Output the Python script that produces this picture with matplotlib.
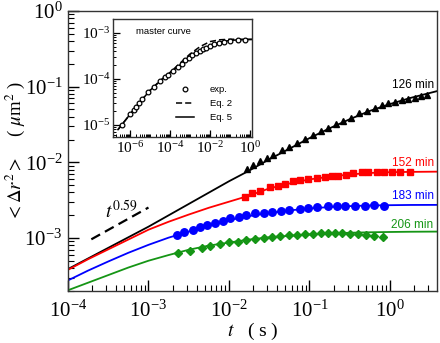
import numpy as np
import matplotlib
matplotlib.use('Agg')
import matplotlib.pyplot as plt
from matplotlib.ticker import LogLocator, NullFormatter

plt.rcParams['font.family'] = ['Liberation Serif', 'DejaVu Serif']
plt.rcParams['mathtext.fontset'] = 'stix'

# ---- main panel data (log10 values) ----
fit_logt = [-4.0, -3.75, -3.5, -3.25, -3.0, -2.75, -2.5, -2.25, -2.0, -1.75,
            -1.5, -1.25, -1.0, -0.75, -0.5, -0.25, 0.0, 0.25, 0.58]
fit_126 = [-3.41, -3.27, -3.13, -2.99, -2.85, -2.70, -2.55, -2.40, -2.25, -2.11,
           -1.96, -1.82, -1.68, -1.55, -1.43, -1.32, -1.23, -1.15, -1.06]
fit_152 = [-3.42, -3.28, -3.15, -3.02, -2.89, -2.785, -2.69, -2.60, -2.52, -2.44,
           -2.345, -2.28, -2.225, -2.19, -2.16, -2.14, -2.13, -2.126, -2.123]
fit_183 = [-3.56, -3.43, -3.31, -3.195, -3.09, -2.995, -2.915, -2.835, -2.765, -2.71,
           -2.67, -2.635, -2.61, -2.59, -2.578, -2.57, -2.566, -2.563, -2.562]
fit_206 = [-3.69, -3.59, -3.49, -3.39, -3.30, -3.225, -3.155, -3.10, -3.06, -3.02,
           -2.99, -2.97, -2.952, -2.94, -2.93, -2.924, -2.92, -2.917, -2.915]

exp126_logt = [-1.78, -1.70, -1.615, -1.53, -1.45, -1.345, -1.25, -1.16, -1.056, -0.96,
               -0.86, -0.77, -0.67, -0.58, -0.48, -0.38, -0.28, -0.19, -0.10, -0.02,
               0.06, 0.145, 0.23, 0.31, 0.39, 0.455]
exp126 = [-2.09, -2.031, -1.987, -1.942, -1.898, -1.841, -1.796, -1.743, -1.689, -1.641,
          -1.588, -1.543, -1.499, -1.456, -1.41, -1.353, -1.323, -1.278, -1.243, -1.211,
          -1.198, -1.181, -1.167, -1.145, -1.124, -1.114]

exp152_logt = [-1.80, -1.71, -1.615, -1.49, -1.39, -1.30, -1.20, -1.12, -1.015, -0.91,
               -0.81, -0.72, -0.64, -0.54, -0.46, -0.35, -0.27, -0.165, -0.08, 0.02,
               0.12, 0.25]
exp152 = [-2.452, -2.406, -2.376, -2.332, -2.306, -2.283, -2.252, -2.239, -2.216, -2.207,
          -2.199, -2.186, -2.177, -2.163, -2.141, -2.127, -2.127, -2.127, -2.127, -2.127,
          -2.127, -2.127]

exp183_logt = [-2.64, -2.555, -2.45, -2.36, -2.27, -2.17, -2.07, -1.99, -1.88, -1.79,
               -1.68, -1.57, -1.46, -1.35, -1.26, -1.12, -1.015, -0.91, -0.77, -0.66,
               -0.56, -0.43, -0.31, -0.20, -0.075]
exp183 = [-2.96, -2.925, -2.894, -2.85, -2.827, -2.797, -2.77, -2.738, -2.717, -2.695,
          -2.672, -2.664, -2.659, -2.641, -2.628, -2.619, -2.606, -2.584, -2.575, -2.575,
          -2.575, -2.575, -2.571, -2.562, -2.571]

exp206_logt = [-2.63, -2.48, -2.34, -2.23, -2.11, -2.0, -1.89, -1.79, -1.68, -1.57,
               -1.47, -1.37, -1.26, -1.16, -1.06, -0.96, -0.86, -0.77, -0.68, -0.60,
               -0.50, -0.40, -0.30, -0.195, -0.09]
exp206 = [-3.204, -3.168, -3.137, -3.106, -3.08, -3.058, -3.049, -3.027, -3.013, -2.996,
          -2.983, -2.969, -2.96, -2.96, -2.951, -2.947, -2.938, -2.938, -2.938, -2.938,
          -2.947, -2.951, -2.96, -2.973, -2.983]

guide_logt = [-3.71, -3.0]
guide_logy = [-3.017, -2.597]

# ---- inset (master curve) ----
mc_logt = [-6.42, -6.00, -5.80, -5.68, -5.55, -5.38, -5.10, -4.80, -4.50, -4.25,
           -4.08, -3.85, -3.62, -3.42, -3.25, -3.05, -2.88, -2.70, -2.52, -2.35,
           -2.18, -2.00, -1.80, -1.55, -1.30, -1.00, -0.62, -0.25]
mc_logy = [-5.00, -4.77, -4.67, -4.60, -4.53, -4.44, -4.29, -4.17, -4.05, -3.96,
           -3.91, -3.82, -3.74, -3.67, -3.60, -3.54, -3.49, -3.44, -3.40, -3.36,
           -3.32, -3.28, -3.24, -3.21, -3.19, -3.17, -3.16, -3.16]
eq_logt = [-6.6, -6.4, -6.0, -5.5, -5.0, -4.5, -4.0, -3.5, -3.0, -2.5, -2.0, -1.5,
           -1.0, -0.5, 0.1]
eq5_logy = [-5.10, -4.99, -4.77, -4.50, -4.25, -4.05, -3.87, -3.70, -3.53, -3.39,
            -3.28, -3.20, -3.165, -3.15, -3.145]
eq2_logy = [-5.10, -4.99, -4.77, -4.50, -4.25, -4.04, -3.86, -3.66, -3.46, -3.30,
            -3.19, -3.15, -3.14, -3.14, -3.14]

series = [
    ('126 min', 'black', '^', 5.0, fit_126, exp126_logt, exp126, (0.286, -0.978)),
    ('152 min', 'red', 's', 4.4, fit_152, exp152_logt, exp152, (0.286, -2.009)),
    ('183 min', 'blue', 'o', 5.4, fit_183, exp183_logt, exp183, (0.282, -2.445)),
    ('206 min', '#159515', 'D', 4.2, fit_206, exp206_logt, exp206, (0.27, -2.83)),
]

fig = plt.figure(figsize=(4.4, 3.43), dpi=100)
ax = fig.add_axes([0.1545, 0.1516, 0.8386, 0.8163])

for label, color, marker, ms, fit, lt, ly, pos in series:
    ax.plot(10 ** np.array(fit_logt), 10 ** np.array(fit), color=color, lw=1.3)
    ax.plot(10 ** np.array(lt), 10 ** np.array(ly), ls='none', marker=marker,
            ms=ms, color=color, mec=color)
    ax.text(10 ** pos[0], 10 ** pos[1], label, color=color, ha='center', va='center',
            fontsize=8.5, family='Liberation Sans')

ax.plot(10 ** np.array(guide_logt), 10 ** np.array(guide_logy), color='black',
        ls=(0, (4.5, 2.5)), lw=1.6)
ax.text(10 ** -3.54, 10 ** -2.74, r'$t^{0.59}$', fontsize=14, ha='left', va='baseline')

ax.set_xscale('log')
ax.set_yscale('log')
ax.set_xlim(1e-4, 10 ** 0.584)
ax.set_ylim(10 ** -3.70, 1)
ax.xaxis.set_major_locator(LogLocator(base=10, numticks=20))
ax.xaxis.set_minor_locator(LogLocator(base=10, subs=np.arange(2, 10), numticks=100))
ax.yaxis.set_major_locator(LogLocator(base=10, numticks=20))
ax.yaxis.set_minor_locator(LogLocator(base=10, subs=np.arange(2, 10), numticks=100))
ax.xaxis.set_minor_formatter(NullFormatter())
ax.yaxis.set_minor_formatter(NullFormatter())
ax.tick_params(which='both', direction='in', top=False, right=False, labelsize=15)
ax.tick_params(which='major', length=8, width=1)
ax.tick_params(which='minor', length=4.5, width=0.8)
ax.tick_params(axis='x', pad=7)
ax.tick_params(axis='y', pad=4)
for sp in ax.spines.values():
    sp.set_linewidth(1.0)
    sp.set_color('#333333')

ax.set_xlabel(r'$t$   ( s )', fontsize=14, labelpad=-0.5)
ax.set_ylabel(r'$<\Delta r^{2}>$    ( $\mu$m$^{2}$ )', fontsize=13.5)
ax.yaxis.set_label_coords(-0.112, 0.5)

# ---- inset ----
ax_in = fig.add_axes([0.2568, 0.6006, 0.3159, 0.344])
ax_in.plot(10 ** np.array(eq_logt), 10 ** np.array(eq2_logy), color='black',
           ls=(0, (4, 2)), lw=1.1, label='Eq. 2')
ax_in.plot(10 ** np.array(eq_logt), 10 ** np.array(eq5_logy), color='black',
           lw=1.1, label='Eq. 5')
ax_in.plot(10 ** np.array(mc_logt), 10 ** np.array(mc_logy), ls='none', marker='o',
           ms=3.4, mfc='white', mec='black', mew=0.9, label='exp.')
ax_in.set_xscale('log')
ax_in.set_yscale('log')
ax_in.set_xlim(10 ** -6.85, 10 ** 0.1)
ax_in.set_ylim(10 ** -5.26, 10 ** -2.70)
ax_in.xaxis.set_major_locator(LogLocator(base=100, numticks=20))
ax_in.xaxis.set_minor_locator(LogLocator(base=10, subs=np.arange(1, 10), numticks=100))
ax_in.yaxis.set_major_locator(LogLocator(base=10, numticks=20))
ax_in.yaxis.set_minor_locator(LogLocator(base=10, subs=np.arange(2, 10), numticks=100))
ax_in.xaxis.set_minor_formatter(NullFormatter())
ax_in.yaxis.set_minor_formatter(NullFormatter())
ax_in.tick_params(which='both', direction='in', top=False, right=False, labelsize=11)
ax_in.tick_params(which='major', length=5, width=0.9, pad=2)
ax_in.tick_params(which='minor', length=2.5, width=0.7)
for sp in ax_in.spines.values():
    sp.set_linewidth(1.0)
    sp.set_color('#333333')
ax_in.text(0.36, 0.89, 'master curve', transform=ax_in.transAxes, ha='center',
           va='center', fontsize=6.8, family='Liberation Sans')

h = ax_in.get_legend_handles_labels()[0]
leg = ax_in.legend([h[2], h[0], h[1]], ['exp.', 'Eq. 2', 'Eq. 5'], loc='upper left',
                   bbox_to_anchor=(0.45, 0.44), frameon=False, handlelength=2.0,
                   handletextpad=1.6, labelspacing=0.55, borderpad=0, borderaxespad=0,
                   prop={'family': 'Liberation Sans', 'size': 6.8})

fig.savefig('out.png', dpi=100)
